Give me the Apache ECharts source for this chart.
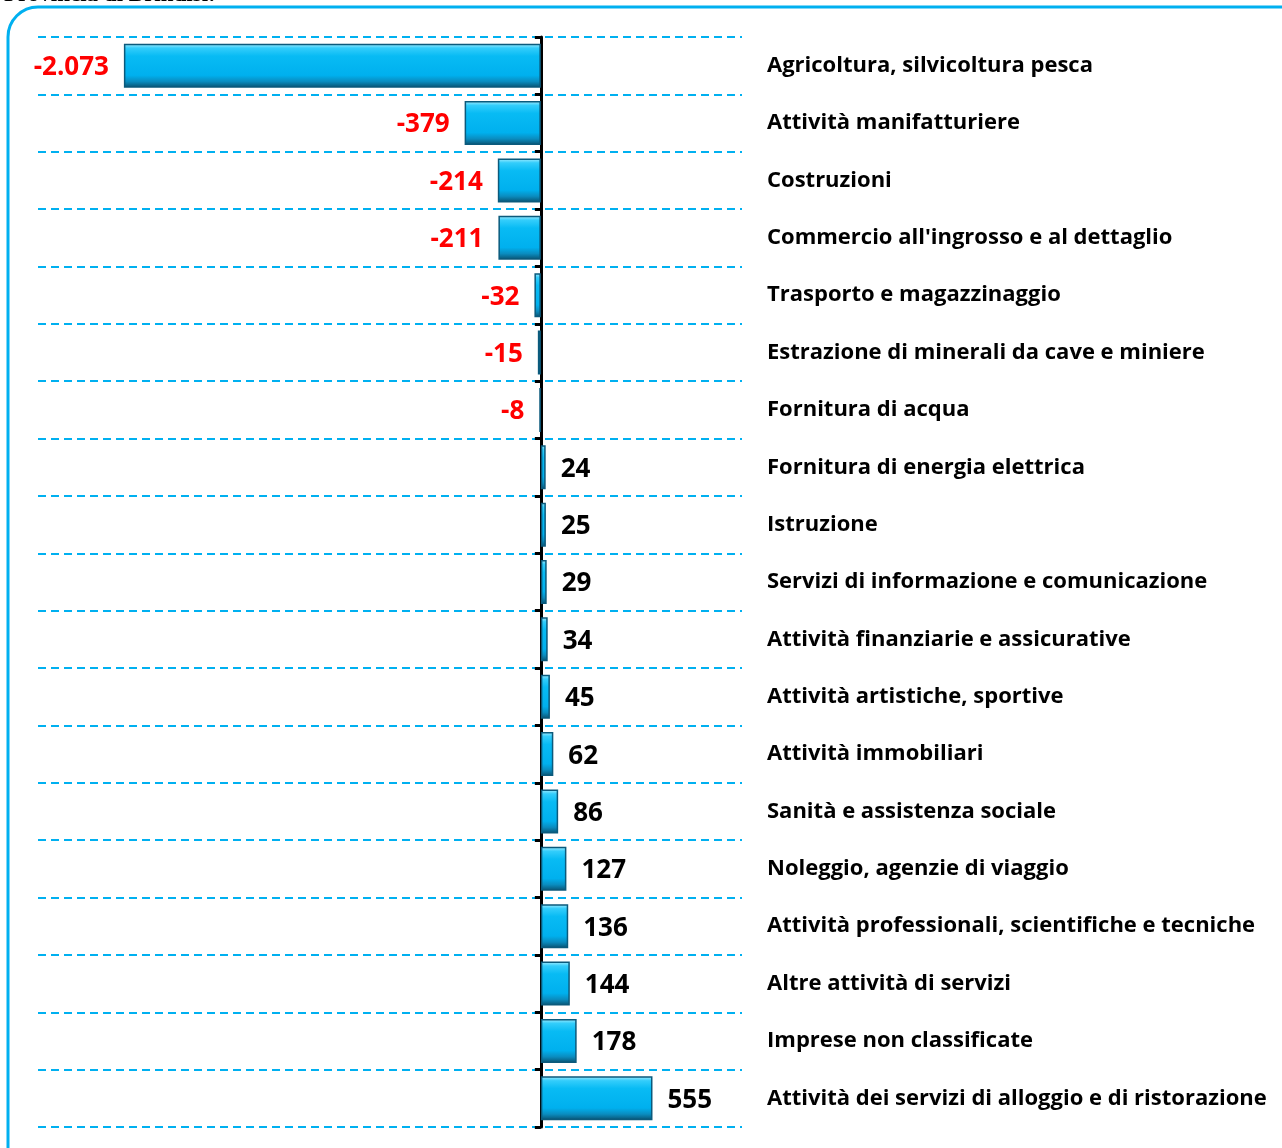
<!DOCTYPE html>
<html>
<head>
<meta charset="utf-8">
<script src="https://cdn.jsdelivr.net/npm/echarts@6/dist/echarts.min.js"></script>
<style>
  html, body { margin: 0; padding: 0; background: #fff; }
  #chart { width: 1282px; height: 1148px; }
</style>
</head>
<body>
<div id="chart"></div>
<script>
// settori, dall'alto verso il basso
const categories = [
  "Agricoltura, silvicoltura pesca",
  "Attività manifatturiere",
  "Costruzioni",
  "Commercio all'ingrosso e al dettaglio",
  "Trasporto e magazzinaggio",
  "Estrazione di minerali da cave e miniere",
  "Fornitura di acqua",
  "Fornitura di energia elettrica",
  "Istruzione",
  "Servizi di informazione e comunicazione",
  "Attività finanziarie e assicurative",
  "Attività artistiche, sportive",
  "Attività immobiliari",
  "Sanità e assistenza sociale",
  "Noleggio, agenzie di viaggio",
  "Attività professionali, scientifiche e tecniche",
  "Altre attività di servizi",
  "Imprese non classificate",
  "Attività dei servizi di alloggio e di ristorazione"
];
const saldo = [-2073, -379, -214, -211, -32, -15, -8, 24, 25, 29, 34, 45, 62, 86, 127, 136, 144, 178, 555];

const xMin = -2500;
const xMax = 1000;

function fmt(v) {
  const s = String(Math.abs(v)).replace(/\B(?=(\d{3})+(?!\d))/g, ".");
  return (v < 0 ? "-" : "") + s;
}

const chart = echarts.init(document.getElementById("chart"));

const barColor = new echarts.graphic.LinearGradient(0, 0, 0, 1, [
  { offset: 0, color: "#a8eeff" },
  { offset: 0.1, color: "#33cdfb" },
  { offset: 0.28, color: "#08bbf4" },
  { offset: 0.72, color: "#00b0ee" },
  { offset: 0.86, color: "#0a8cbf" },
  { offset: 1, color: "#09506e" }
]);

chart.setOption({
  animation: false,
  graphic: [
    {
      type: "rect",
      shape: { x: 8, y: 7, width: 1310, height: 1170, r: 30 },
      style: { fill: "none", stroke: "#00b0f0", lineWidth: 3 },
      silent: true
    },
    {
      type: "text",
      x: 4,
      y: -16,
      style: {
        text: "Provincia di Brindisi:",
        font: "bold 23px 'Liberation Serif'",
        fill: "#000",
        textBaseline: "top"
      }
    }
  ],
  grid: {
    left: 38,
    right: 540,
    top: 37,
    bottom: 21
  },
  xAxis: {
    type: "value",
    min: xMin,
    max: xMax,
    axisLabel: { show: false },
    axisLine: { show: false },
    axisTick: { show: false },
    splitLine: { show: false }
  },
  yAxis: [
    {
      type: "category",
      data: categories,
      inverse: true,
      axisLine: { onZero: true, lineStyle: { color: "#000", width: 3 } },
      axisTick: { show: true, length: 6, lineStyle: { color: "#000", width: 3 } },
      axisLabel: { show: false },
      splitLine: {
        show: true,
        lineStyle: { color: "#00b0f0", width: 2, type: [8, 5] }
      }
    },
    {
      type: "category",
      data: categories,
      inverse: true,
      position: "right",
      axisLine: { show: false },
      axisTick: { show: false },
      splitLine: { show: false },
      axisLabel: {
        margin: 25,
        align: "left",
        color: "#000",
        fontFamily: "Open Sans",
        fontWeight: "bold",
        fontSize: 22,
        padding: [2, 0, 0, 0]
      }
    }
  ],
  series: [
    {
      type: "bar",
      yAxisIndex: 0,
      barWidth: 44,
      itemStyle: {
        color: barColor,
        borderColor: "#0b5a7c",
        borderWidth: 1.5
      },
      data: saldo.map(function (v) {
        return {
          value: v,
          label: {
            show: true,
            position: v < 0 ? "left" : "right",
            distance: 15,
            offset: [0, 2],
            formatter: function () { return fmt(v); },
            color: v < 0 ? "#ff0000" : "#000",
            fontFamily: "Open Sans",
            fontWeight: "bold",
            fontSize: 26
          }
        };
      })
    }
  ]
});

window.addEventListener("resize", () => {
  chart && chart.resize();
});
</script>
</body>
</html>
